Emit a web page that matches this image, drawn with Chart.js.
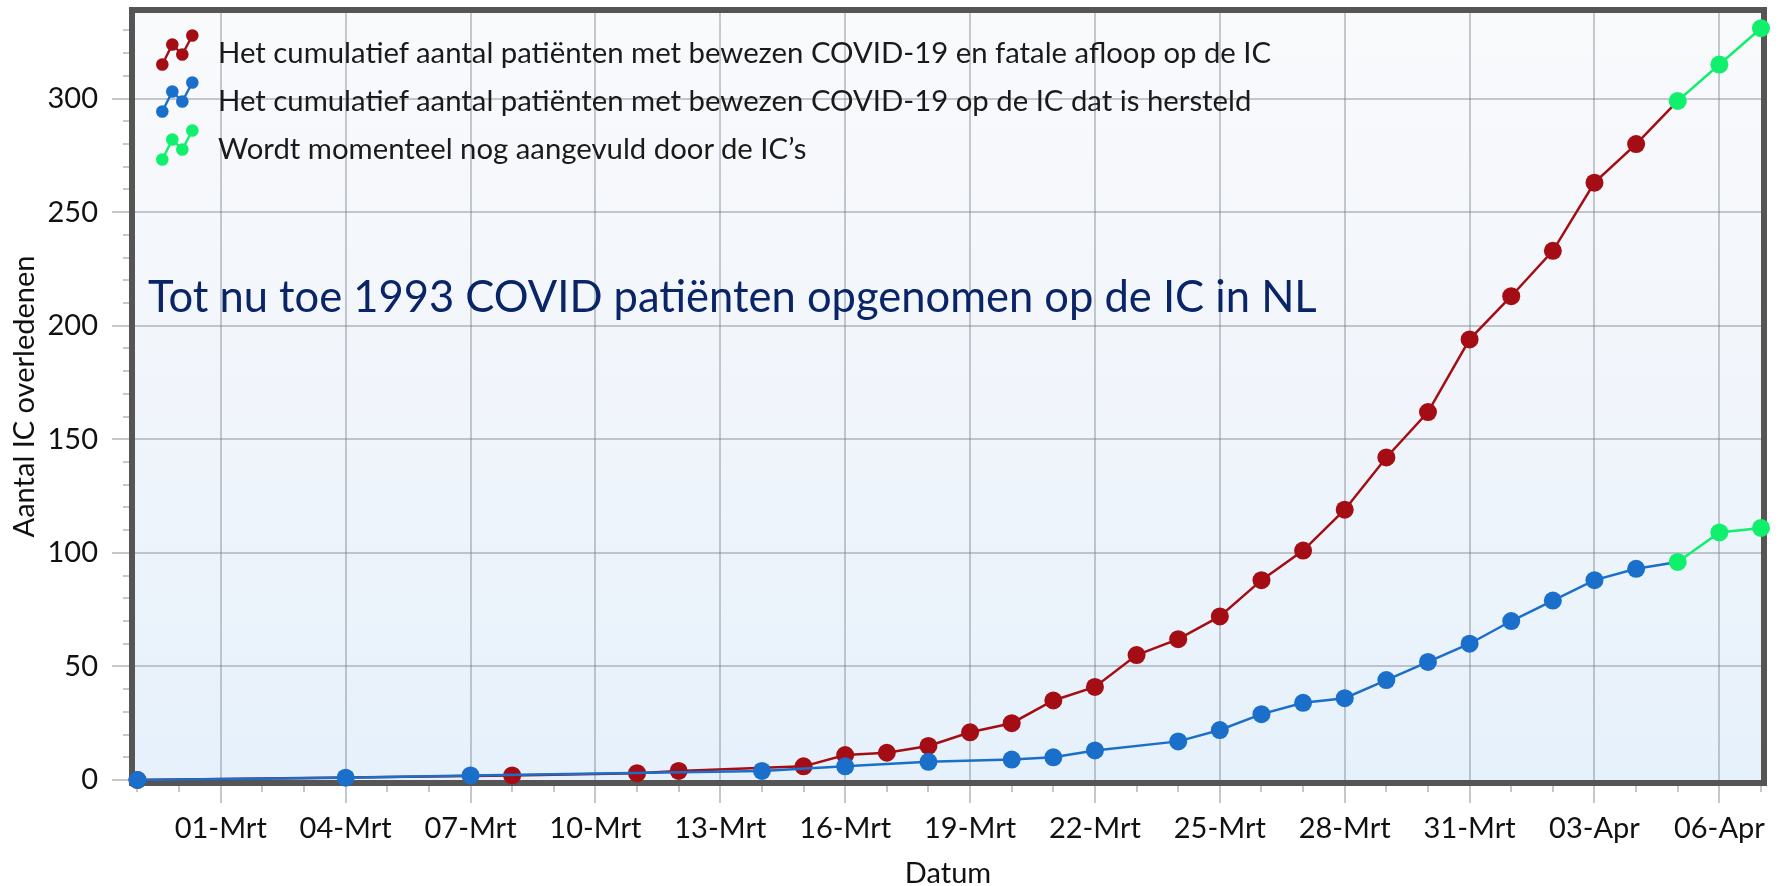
<!DOCTYPE html>
<html>
<head>
<meta charset="utf-8">
<script src="https://cdn.jsdelivr.net/npm/chart.js@4.4.1/dist/chart.umd.min.js"></script>
<style>
  html, body { margin: 0; padding: 0; background: #ffffff; }
  #wrap { position: relative; width: 1785px; height: 886px; overflow: hidden; }
  #chart { position: absolute; left: 0; top: 0; }
  .leg { position: absolute; left: 150px; height: 60px; }
  .legtext { position: absolute; left: 218px; font-family: Lato, sans-serif; color: #1a1a1a; white-space: nowrap; line-height: 1; }
  #note { position: absolute; left: 148px; font-family: Lato, sans-serif; color: #0a2468; white-space: nowrap; line-height: 1; }
</style>
</head>
<body>
<div id="wrap">
  <canvas id="chart" width="1785" height="886"></canvas>
  <div id="legend"></div>
  <div id="note"></div>
</div>
<script>
// ---------------- data ----------------
const startDate = '2020-02-28';
const endDate = '2020-04-07';
const provisionalFrom = '2020-04-05';

const fatalLabel = 'Het cumulatief aantal patiënten met bewezen COVID-19 en fatale afloop op de IC';
const recoveredLabel = 'Het cumulatief aantal patiënten met bewezen COVID-19 op de IC dat is hersteld';
const provisionalLabel = 'Wordt momenteel nog aangevuld door de IC’s';
const noteText = 'Tot nu toe 1993 COVID patiënten opgenomen op de IC in NL';
const xTitle = 'Datum';
const yTitle = 'Aantal IC overledenen';

const fatalDates = ['2020-02-28','2020-03-08','2020-03-11','2020-03-12','2020-03-15','2020-03-16','2020-03-17',
  '2020-03-18','2020-03-19','2020-03-20','2020-03-21','2020-03-22','2020-03-23','2020-03-24','2020-03-25',
  '2020-03-26','2020-03-27','2020-03-28','2020-03-29','2020-03-30','2020-03-31','2020-04-01','2020-04-02',
  '2020-04-03','2020-04-04','2020-04-05','2020-04-06','2020-04-07'];
const fatalValues = [0,2,3,4,6,11,12,15,21,25,35,41,55,62,72,88,101,119,142,162,194,213,233,263,280,299,315,331];

const recoveredDates = ['2020-02-28','2020-03-04','2020-03-07','2020-03-14','2020-03-16','2020-03-18','2020-03-20',
  '2020-03-21','2020-03-22','2020-03-24','2020-03-25','2020-03-26','2020-03-27','2020-03-28','2020-03-29',
  '2020-03-30','2020-03-31','2020-04-01','2020-04-02','2020-04-03','2020-04-04','2020-04-05','2020-04-06','2020-04-07'];
const recoveredValues = [0,1,2,4,6,8,9,10,13,17,22,29,34,36,44,52,60,70,79,88,93,96,109,111];

const tickDates = ['2020-03-01','2020-03-04','2020-03-07','2020-03-10','2020-03-13','2020-03-16','2020-03-19',
  '2020-03-22','2020-03-25','2020-03-28','2020-03-31','2020-04-03','2020-04-06'];
const tickLabels = ['01-Mrt','04-Mrt','07-Mrt','10-Mrt','13-Mrt','16-Mrt','19-Mrt','22-Mrt','25-Mrt','28-Mrt','31-Mrt','03-Apr','06-Apr'];
const yTickValues = [0,50,100,150,200,250,300];
const yMinorStep = 10;
const yMax = 337.7;

// ---------------- helpers ----------------
const dayIndex = d => Math.round((Date.parse(d) - Date.parse(startDate)) / 864e5);
const lastDay = dayIndex(endDate);
const provX = dayIndex(provisionalFrom);
const toPoints = (dates, vals) => dates.map((d, i) => ({ x: dayIndex(d), y: vals[i] }));
const labelByDay = new Map(tickDates.map((d, i) => [dayIndex(d), tickLabels[i]]));

const RED = '#a50d14', BLUE = '#1a6fca', GREEN = '#10f06c';
const GRID = 'rgba(110,118,130,0.38)';
const TICK = '#c4c8cc';
const FONT = "Lato, sans-serif";

function series(label, dates, vals, color, order) {
  const zoneColor = c => (c.parsed && c.parsed.x >= provX) ? GREEN : color;
  return {
    label, data: toPoints(dates, vals), order,
    borderColor: color, backgroundColor: color, borderWidth: 2.5, tension: 0,
    segment: { borderColor: c => c.p0.parsed.x >= provX ? GREEN : undefined },
    pointRadius: 9, pointBorderWidth: 0, pointHoverRadius: 9,
    pointBackgroundColor: zoneColor, pointBorderColor: zoneColor,
    clip: false
  };
}

const framePlugin = {
  id: 'frame',
  beforeDraw(chart) {
    const { ctx, chartArea: a } = chart;
    ctx.save();
    ctx.fillStyle = '#ffffff';
    ctx.fillRect(0, 0, chart.width, chart.height);
    const g = ctx.createLinearGradient(0, a.top, 0, a.bottom);
    g.addColorStop(0, '#f9fafc');
    g.addColorStop(0.5, '#f1f5fb');
    g.addColorStop(1, '#e6f1fb');
    ctx.fillStyle = g;
    ctx.fillRect(a.left, a.top, a.right - a.left, a.bottom - a.top);
    ctx.restore();
  },
  beforeDatasetsDraw(chart) {
    const { ctx, chartArea: a } = chart;
    ctx.save();
    ctx.strokeStyle = '#555555';
    ctx.lineWidth = 6;
    ctx.strokeRect(a.left - 3, a.top - 3, a.right - a.left + 6, a.bottom - a.top + 6);
    ctx.restore();
  }
};

Chart.defaults.font.family = FONT;
Chart.defaults.color = '#1a1a1a';

new Chart(document.getElementById('chart'), {
  type: 'line',
  data: {
    datasets: [
      series(recoveredLabel, recoveredDates, recoveredValues, BLUE, 1),
      series(fatalLabel, fatalDates, fatalValues, RED, 2)
    ]
  },
  options: {
    responsive: false,
    animation: false,
    layout: { padding: { left: 0, top: 13, right: 24, bottom: 0 } },
    plugins: { legend: { display: false }, tooltip: { enabled: false } },
    scales: {
      x: {
        type: 'linear', min: -0.06, max: lastDay,
        afterBuildTicks: s => { s.ticks = Array.from({ length: lastDay + 1 }, (_, i) => ({ value: i })); },
        afterFit: s => { s.height = 106; s.paddingLeft = 0; s.paddingRight = 0; },
        border: { display: false },
        grid: {
          color: c => (c.tick && labelByDay.has(c.tick.value)) ? GRID : 'rgba(0,0,0,0)',
          lineWidth: 2,
          tickColor: TICK, tickWidth: 2, tickLength: 23,
          tickBorderDash: c => (c.tick && labelByDay.has(c.tick.value)) ? [] : [12, 100]
        },
        ticks: {
          autoSkip: false, maxRotation: 0, padding: 8,
          font: { size: 29 }, color: '#111',
          callback: v => labelByDay.get(v) || ''
        },
        title: { display: true, text: xTitle, font: { size: 29, lineHeight: 0.85 }, color: '#111', padding: { top: 0, bottom: 0 } }
      },
      y: {
        type: 'linear', min: 0, max: yMax,
        afterBuildTicks: s => {
          const t = [];
          for (let v = 0; v <= yTickValues[yTickValues.length - 1] + 30; v += yMinorStep) t.push({ value: v });
          s.ticks = t;
        },
        afterFit: s => { s.width = 135; s.paddingTop = 0; s.paddingBottom = 0; },
        border: { display: false },
        grid: {
          color: c => (c.tick && yTickValues.includes(c.tick.value) && c.tick.value > 0) ? GRID : 'rgba(0,0,0,0)',
          lineWidth: 2,
          tickColor: TICK, tickWidth: 2, tickLength: 23,
          tickBorderDash: c => (c.tick && yTickValues.includes(c.tick.value)) ? [] : [0, 11, 12, 100]
        },
        ticks: {
          autoSkip: false,
          padding: 14, font: { size: 29 }, color: '#111',
          callback: v => yTickValues.includes(v) ? String(v) : ''
        },
        title: { display: true, text: yTitle, font: { size: 29 }, color: '#111', padding: { top: 7, bottom: 0 } }
      }
    }
  },
  plugins: [framePlugin]
});

// ---------------- legend & note (HTML text) ----------------
function fitSize(text, family, targetWidth) {
  const c = document.createElement('canvas').getContext('2d');
  c.font = '100px ' + family;
  return 100 * targetWidth / c.measureText(text).width;
}
const legendSize = fitSize(fatalLabel, FONT, 1054);
const noteSize = fitSize(noteText, FONT, 1169);

const legendRows = [
  { text: fatalLabel, color: RED, center: 53.5 },
  { text: recoveredLabel, color: BLUE, center: 101.3 },
  { text: provisionalLabel, color: GREEN, center: 149 }
];
const legend = document.getElementById('legend');
const iconPts = [[12.3, 40.5], [22.3, 20.5], [32.3, 30.5], [42.3, 11.5]];
legendRows.forEach(r => {
  const svgNS = 'http://www.w3.org/2000/svg';
  const svg = document.createElementNS(svgNS, 'svg');
  svg.setAttribute('width', '56'); svg.setAttribute('height', '52');
  svg.setAttribute('class', 'leg');
  svg.style.top = (r.center - 30) + 'px';
  const pl = document.createElementNS(svgNS, 'polyline');
  pl.setAttribute('points', iconPts.map(p => p.join(',')).join(' '));
  pl.setAttribute('fill', 'none'); pl.setAttribute('stroke', r.color); pl.setAttribute('stroke-width', '2.4');
  svg.appendChild(pl);
  iconPts.forEach(p => {
    const c = document.createElementNS(svgNS, 'circle');
    c.setAttribute('cx', p[0]); c.setAttribute('cy', p[1]); c.setAttribute('r', '6.3'); c.setAttribute('fill', r.color);
    svg.appendChild(c);
  });
  legend.appendChild(svg);
  const t = document.createElement('div');
  t.className = 'legtext';
  t.textContent = r.text;
  t.style.fontSize = legendSize + 'px';
  t.style.top = (r.center - legendSize * 0.55) + 'px';
  legend.appendChild(t);
});
const note = document.getElementById('note');
note.textContent = noteText;
note.style.fontSize = noteSize + 'px';
note.style.top = (298 - noteSize * 0.55) + 'px';
</script>
</body>
</html>
